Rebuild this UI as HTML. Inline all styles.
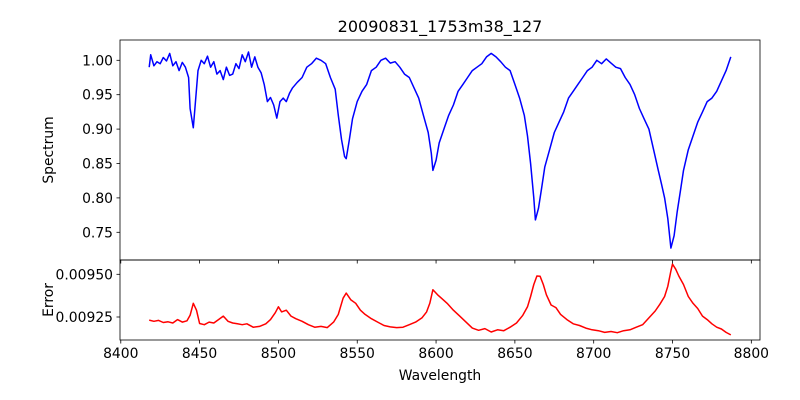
<!DOCTYPE html>
<html><head><meta charset="utf-8"><style>
html,body{margin:0;padding:0;background:#fff;}
svg{display:block;font-family:"DejaVu Sans","Liberation Sans",sans-serif;}
</style></head><body>
<svg id="chart" width="800" height="400" viewBox="0 0 800 400">
<rect width="800" height="400" fill="#fff"/>
<text x="440" y="32" text-anchor="middle" font-size="16">20090831_1753m38_127</text>
<g id="top"></g><g id="bot"></g>
<text x="440" y="380" text-anchor="middle" font-size="13.9">Wavelength</text>
<text transform="translate(53,150) rotate(-90)" text-anchor="middle" font-size="13.9">Spectrum</text>
<text transform="translate(53,300) rotate(-90)" text-anchor="middle" font-size="13.9">Error</text>
</svg>
<script>
const specW=[8418,8419,8421,8423,8425,8427,8429,8431,8433,8435,8437,8439,8441,8443,8444,8446,8447,8449,8451,8453,8455,8457,8459,8461,8463,8465,8467,8469,8471,8473,8475,8477,8479,8481,8483,8485,8487,8489,8491,8493,8495,8497,8499,8501,8503,8505,8507,8509,8512,8515,8518,8521,8524,8527,8530,8533,8536,8538,8540,8542,8543,8545,8547,8550,8553,8556,8559,8562,8565,8568,8571,8574,8577,8580,8583,8586,8589,8592,8595,8597,8598,8600,8602,8605,8608,8611,8614,8617,8620,8623,8626,8629,8632,8635,8638,8641,8644,8647,8650,8653,8656,8658,8660,8662,8663,8665,8667,8669,8672,8675,8678,8681,8684,8687,8690,8693,8696,8699,8702,8705,8708,8711,8714,8717,8720,8723,8726,8729,8732,8735,8738,8741,8743,8745,8747,8749,8751,8753,8755,8757,8760,8763,8766,8769,8772,8775,8778,8781,8784,8787];
const specV=[0.99,1.008,0.992,0.998,0.995,1.004,0.999,1.01,0.992,0.998,0.985,0.997,0.99,0.975,0.93,0.902,0.93,0.985,1.0,0.995,1.006,0.99,0.998,0.98,0.985,0.972,0.99,0.978,0.98,0.995,0.988,1.008,0.998,1.012,0.99,1.005,0.99,0.982,0.965,0.94,0.946,0.935,0.916,0.94,0.945,0.94,0.952,0.96,0.968,0.975,0.99,0.995,1.003,1.0,0.995,0.975,0.958,0.92,0.885,0.86,0.857,0.885,0.915,0.94,0.955,0.965,0.985,0.99,1.0,1.003,0.996,0.998,0.99,0.98,0.975,0.96,0.945,0.92,0.895,0.865,0.84,0.855,0.88,0.9,0.92,0.935,0.955,0.965,0.975,0.985,0.99,0.995,1.005,1.01,1.005,0.998,0.99,0.985,0.965,0.945,0.92,0.89,0.85,0.8,0.768,0.785,0.815,0.845,0.87,0.895,0.91,0.925,0.945,0.955,0.965,0.975,0.985,0.99,1.0,0.995,1.002,0.996,0.99,0.988,0.975,0.965,0.95,0.93,0.915,0.9,0.87,0.84,0.82,0.8,0.77,0.727,0.745,0.78,0.81,0.84,0.87,0.89,0.91,0.925,0.94,0.945,0.955,0.97,0.985,1.005];
const errW=[8418,8421,8424,8427,8430,8433,8436,8439,8442,8444,8446,8448,8450,8453,8456,8459,8462,8465,8468,8471,8474,8477,8480,8484,8488,8492,8495,8498,8500,8502,8505,8508,8511,8515,8519,8523,8527,8531,8535,8538,8541,8543,8546,8549,8552,8555,8559,8563,8567,8571,8575,8579,8583,8587,8591,8594,8596,8598,8601,8604,8607,8611,8615,8619,8623,8627,8631,8635,8639,8643,8647,8651,8655,8658,8660,8662,8664,8666,8668,8670,8673,8676,8679,8683,8687,8691,8695,8699,8703,8707,8711,8715,8719,8723,8727,8731,8735,8739,8742,8745,8747,8749,8750,8752,8754,8757,8760,8763,8766,8769,8772,8775,8778,8781,8784,8787];
const errV=[0.009232,0.009225,0.00923,0.009218,0.009222,0.009215,0.009235,0.00922,0.009228,0.00926,0.00933,0.00929,0.009212,0.009205,0.00922,0.009215,0.009235,0.009255,0.009225,0.009215,0.00921,0.009205,0.00921,0.00919,0.009195,0.00921,0.009235,0.009275,0.00931,0.00928,0.00929,0.009255,0.00924,0.009225,0.009205,0.00919,0.009195,0.009188,0.00922,0.009265,0.00936,0.00939,0.00935,0.00933,0.00929,0.009265,0.00924,0.00922,0.0092,0.009192,0.009188,0.00919,0.009205,0.00922,0.009245,0.00928,0.00933,0.00941,0.00938,0.009355,0.00933,0.00929,0.009255,0.00922,0.009185,0.009172,0.009182,0.009162,0.009175,0.00917,0.00919,0.009215,0.00926,0.00931,0.00937,0.00944,0.00949,0.009488,0.00944,0.00938,0.00932,0.009305,0.009265,0.009235,0.00921,0.0092,0.009185,0.009175,0.00917,0.00916,0.009165,0.009158,0.00917,0.009175,0.00919,0.009205,0.009245,0.009285,0.009325,0.00937,0.00943,0.00952,0.00956,0.00953,0.00949,0.00944,0.00937,0.00933,0.0093,0.009255,0.009235,0.00921,0.00919,0.00918,0.00916,0.009145];
const xTicks=[8400,8450,8500,8550,8600,8650,8700,8750,8800];
const specTicks=[1.00,0.95,0.90,0.85,0.80,0.75];
const errTicks=[0.00950,0.00925];

const NS="http://www.w3.org/2000/svg";
const X0=120,X1=760,XMIN=8399.5,XMAX=8805.5;
const sx=w=>X0+(w-XMIN)/(XMAX-XMIN)*(X1-X0);
const sy1=v=>60.3+(1-v)/0.05*34.4;
const sy2=v=>274.3+(0.0095-v)/0.00025*42.7;
function mk(tag,attrs,parent){const e=document.createElementNS(NS,tag);for(const k in attrs)e.setAttribute(k,attrs[k]);parent.appendChild(e);return e;}
function panel(g,y0,y1,W,V,sy,ticks,fmt,color,nm,showX){
  const p=mk('polyline',{points:W.map((w,i)=>sx(w).toFixed(1)+','+sy(V[i]).toFixed(1)).join(' '),fill:'none',stroke:color,'stroke-width':1.5,'stroke-linejoin':'round'},g);
  
  
  ticks.forEach(t=>{const y=sy(t);
    const l=mk('line',{x1:X0-3.5,x2:X0,y1:y,y2:y,stroke:'#000','stroke-width':0.8},g);
    
    
    const tx=mk('text',{x:X0-7,y:y+5,'text-anchor':'end','font-size':13.9},g);tx.textContent=fmt(t);
    
    });
  xTicks.forEach(t=>{const x=sx(t);
    const l=mk('line',{x1:x,x2:x,y1:y1,y2:y1+3.5,stroke:'#000','stroke-width':0.8},g);
    
    
    if(showX){const tx=mk('text',{x:x,y:y1+18,'text-anchor':'middle','font-size':13.9},g);tx.textContent=t;
      
      }});
  const r=mk('rect',{x:X0,y:y0,width:X1-X0,height:y1-y0,fill:'none',stroke:'#000','stroke-width':0.8},g);
  
  
}
panel(document.getElementById('top'),40,260,specW,specV,sy1,specTicks,t=>t.toFixed(2),'#0000ff','spectrum',false);
panel(document.getElementById('bot'),260,340,errW,errV,sy2,errTicks,t=>t.toFixed(5),'#ff0000','error',true);
</script>
</body></html>
